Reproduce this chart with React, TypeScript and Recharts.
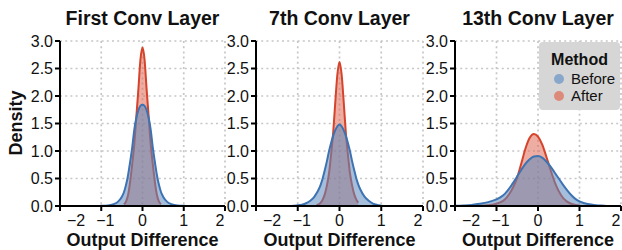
import { ComposedChart, Area, XAxis, YAxis, CartesianGrid, Legend } from "recharts";

const FONT = '"Liberation Sans", Arial, Helvetica, sans-serif';
const RED = "#d6432b";
const BLUE = "#3d73b2";
const RED_FILL = "#de6a55";
const BLUE_FILL = "#5a88bd";

// ---- data ----
const titles = ["First Conv Layer", "7th Conv Layer", "13th Conv Layer"];
const xTicks = [-2, -1, 0, 1, 2];
const yTicks = [0, 0.5, 1, 1.5, 2, 2.5, 3];
const legendItems = ["Before", "After"];

const x1 = [-1.05, -1, -0.9, -0.8, -0.7, -0.6, -0.5, -0.45, -0.4, -0.35, -0.3, -0.25, -0.2, -0.15, -0.1, -0.05, 0, 0.05, 0.1, 0.15, 0.2, 0.25, 0.3, 0.35, 0.4, 0.45, 0.5, 0.6, 0.7, 0.8, 0.9, 1, 1.05];
const before1 = [0, 0.003, 0.006, 0.015, 0.035, 0.075, 0.17, 0.25, 0.38, 0.56, 0.8, 1.06, 1.38, 1.6, 1.74, 1.82, 1.84, 1.82, 1.74, 1.6, 1.38, 1.06, 0.8, 0.56, 0.38, 0.25, 0.17, 0.075, 0.035, 0.015, 0.006, 0.003, 0];
const after1 = [null, null, null, null, null, null, null, 0.03, 0.08, 0.2, 0.44, 0.76, 1.12, 1.62, 2.12, 2.66, 2.88, 2.66, 2.12, 1.62, 1.12, 0.76, 0.44, 0.2, 0.08, 0.035, null, null, null, null, null, null, null];

const x2 = [-1.15, -1.1, -1, -0.9, -0.8, -0.7, -0.6, -0.55, -0.5, -0.45, -0.4, -0.35, -0.3, -0.25, -0.2, -0.15, -0.1, -0.05, 0, 0.05, 0.1, 0.15, 0.2, 0.25, 0.3, 0.35, 0.4, 0.45, 0.5, 0.6, 0.7, 0.8, 0.9, 1, 1.05];
const before2 = [0.002, 0.005, 0.012, 0.025, 0.05, 0.095, 0.17, 0.23, 0.3, 0.39, 0.51, 0.66, 0.82, 1.0, 1.15, 1.28, 1.38, 1.45, 1.48, 1.45, 1.38, 1.28, 1.15, 1.0, 0.82, 0.66, 0.51, 0.39, 0.3, 0.17, 0.095, 0.045, 0.02, 0.006, 0];
const after2 = [null, null, null, null, null, null, null, 0.015, 0.03, 0.06, 0.12, 0.22, 0.38, 0.6, 0.95, 1.35, 1.9, 2.4, 2.62, 2.4, 1.9, 1.35, 0.95, 0.6, 0.38, 0.22, 0.12, 0.06, null, null, null, null, null, null, null];

const x3 = [-2, -1.8, -1.6, -1.4, -1.2, -1, -0.9, -0.8, -0.7, -0.6, -0.5, -0.4, -0.3, -0.2, -0.1, 0, 0.1, 0.2, 0.3, 0.4, 0.5, 0.6, 0.7, 0.8, 0.9, 1, 1.1, 1.2, 1.4, 1.6, 1.66];
const before3 = [0.004, 0.01, 0.02, 0.04, 0.07, 0.12, 0.16, 0.22, 0.31, 0.42, 0.54, 0.66, 0.77, 0.85, 0.9, 0.91, 0.88, 0.81, 0.72, 0.61, 0.5, 0.39, 0.29, 0.2, 0.13, 0.085, 0.055, 0.035, 0.014, 0.004, 0];
const after3 = [null, null, null, 0.005, 0.015, 0.04, 0.07, 0.12, 0.21, 0.34, 0.52, 0.78, 1.05, 1.24, 1.31, 1.26, 1.12, 0.9, 0.66, 0.44, 0.27, 0.15, 0.08, 0.04, 0.02, 0.008, null, null, null, null, null];

const rows = (xs: number[], before: (number | null)[], after: (number | null)[]) =>
  xs.map((x, i) => ({ x, before: before[i], after: after[i] }));

const panels = [
  { data: rows(x1, before1, after1), left: 60, width: 165 },
  { data: rows(x2, before2, after2), left: 256, width: 167 },
  { data: rows(x3, before3, after3), left: 455, width: 166 },
];

const fmtX = (v: number) => (v < 0 ? "\u2212" + Math.abs(v) : String(v));
const xShift: Record<string, number> = { "-2": 16, "-1": 4, "2": -5 };

const XTick = (props: any) => {
  const { x, y, payload } = props;
  const dx = xShift[String(payload.value)] ?? 0;
  return (
    <text x={x + dx} y={y} dy="0.71em" textAnchor="middle" fill="#111" fontSize={16} fontFamily={FONT}>
      {fmtX(payload.value)}
    </text>
  );
};

const MethodLegend = () => (
  <div
    style={{
      width: 81,
      height: 68,
      background: "#d6d6d6",
      borderRadius: 4,
      position: "relative",
      fontFamily: FONT,
      color: "#111",
    }}
  >
    <div style={{ position: "absolute", left: 0, right: 0, top: 9, textAlign: "center", fontWeight: 700, fontSize: 16, lineHeight: "18px" }}>
      Method
    </div>
    {legendItems.map((name, i) => (
      <div key={name} style={{ position: "absolute", left: 15, top: 28 + i * 17, fontSize: 15, lineHeight: "17px", display: "flex", alignItems: "center" }}>
        <span
          style={{
            width: 10,
            height: 10,
            borderRadius: 5,
            background: i === 0 ? "#88a7ca" : "#dc8a7a",
            display: "inline-block",
            marginRight: 7,
          }}
        />
        {name}
      </div>
    ))}
  </div>
);

function Panel({ idx }: { idx: number }) {
  const p = panels[idx];
  const yw = 60;
  return (
    <div style={{ position: "absolute", left: p.left - yw, top: 0 }}>
      <ComposedChart width={yw + p.width + 1} height={250} data={p.data} margin={{ top: 41, right: 1, bottom: 0, left: 0 }}>
        <CartesianGrid stroke="#c6c6c6" strokeDasharray="2 3.2" strokeWidth={1.7} />
        <XAxis
          dataKey="x"
          type="number"
          domain={[-2, 2]}
          ticks={xTicks}
          allowDataOverflow
          height={44}
          axisLine={{ stroke: "#000", strokeWidth: 2 }}
          tickLine={{ stroke: "#000", strokeWidth: 2 }}
          tickSize={5}
          tickMargin={4}
          tick={<XTick />}
          interval={0}
        />
        <YAxis
          type="number"
          domain={[0, 3]}
          ticks={yTicks}
          width={yw}
          axisLine={{ stroke: "#000", strokeWidth: 2 }}
          tickLine={{ stroke: "#000", strokeWidth: 2 }}
          tickSize={5}
          tickMargin={2}
          tickFormatter={(v: number) => v.toFixed(1)}
          tick={{ fill: "#111", fontSize: 16, fontFamily: FONT }}
          interval={0}
        />
        <Area
          dataKey="after"
          type="monotone"
          stroke={RED}
          strokeWidth={2}
          fill={RED_FILL}
          fillOpacity={0.55}
          isAnimationActive={false}
          dot={false}
          activeDot={false}
        />
        <Area
          dataKey="before"
          type="monotone"
          stroke={BLUE}
          strokeWidth={2}
          fill={BLUE_FILL}
          fillOpacity={0.55}
          isAnimationActive={false}
          dot={false}
          activeDot={false}
        />
        {idx === 2 && (
          <Legend
            layout="horizontal"
            verticalAlign="middle"
            align="center"
            content={<MethodLegend />}
            wrapperStyle={{ position: "absolute", left: 539 - (p.left - yw), top: 42, width: 81, height: 68 }}
          />
        )}
      </ComposedChart>
    </div>
  );
}

export default function App() {
  return (
    <div style={{ position: "absolute", left: 0, top: 0, width: 622, height: 250, overflow: "hidden", background: "#fff" }}>
      {panels.map((_, i) => (
        <Panel key={i} idx={i} />
      ))}
      <svg width={622} height={250} style={{ position: "absolute", left: 0, top: 0, pointerEvents: "none" }}>
        {panels.map((p, i) => (
          <g key={i} fontFamily={FONT} fontWeight={700} fill="#111" textAnchor="middle">
            <text x={p.left + p.width / 2} y={25} fontSize={19.5}>{titles[i]}</text>
            <text x={p.left + p.width / 2} y={246} fontSize={18}>Output Difference</text>
          </g>
        ))}
        <text
          x={16}
          y={123}
          transform="rotate(-90 16 123)"
          textAnchor="middle"
          dominantBaseline="central"
          fontFamily={FONT}
          fontWeight={700}
          fontSize={18}
          fill="#111"
        >
          Density
        </text>
      </svg>
    </div>
  );
}
